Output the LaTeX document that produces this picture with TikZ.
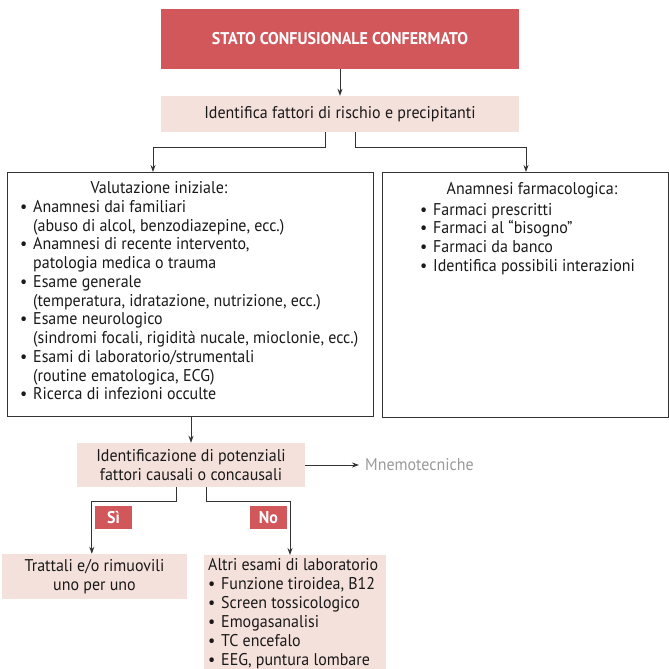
\documentclass[tikz,border=0pt]{standalone}
\usepackage{fontspec}
\setmainfont[FakeStretch=0.94]{PT Sans}
\usetikzlibrary{arrows.meta,calc}
\definecolor{boxred}{HTML}{D1575B}
\definecolor{boxpink}{HTML}{F5E1DC}
\definecolor{linegray}{HTML}{333333}
\definecolor{notegray}{HTML}{9A9A9A}
% bullet and hanging indent for list lines
\newcommand{\bl}{\makebox[13pt][l]{\textbullet}}
\newcommand{\ind}{\hspace*{13pt}}

\begin{document}
\begin{tikzpicture}[x=1pt,y=-1pt,
  every node/.style={font=\fontsize{17}{19}\selectfont, inner sep=0pt, text=black!90},
  redbox/.style={fill=boxred, text=white, font=\fontsize{17}{19}\selectfont\bfseries},
  pinkbox/.style={fill=boxpink},
  framebox/.style={draw=linegray, line width=0.9pt},
  conn/.style={draw=linegray, line width=0.9pt},
  arr/.style={conn, -{Stealth[length=7pt,width=5pt]}},
  listtext/.style={align=left, anchor=north west},
  headtext/.style={anchor=north},
]
\useasboundingbox (0,0) rectangle (669,669);

% --- top of the chart
\node[redbox, minimum width=358, minimum height=60] (top) at (340,39) {STATO CONFUSIONALE CONFERMATO};
\node[pinkbox, minimum width=358, minimum height=36] (risk) at (340,114) {Identifica fattori di rischio e precipitanti};

% --- two assessment boxes
\node[framebox, minimum width=366, minimum height=244, anchor=north west] (val) at (7,172) {};
\node[framebox, minimum width=286, minimum height=245, anchor=north west] (farm) at (382,172) {};

\node[headtext] (valhead) at (159,181) {Valutazione iniziale:};
\node[listtext, font=\fontsize{17}{18.75}\selectfont] (vallist) at (20,200) {%
\bl Anamnesi dai familiari\\
\ind(abuso di alcol, benzodiazepine, ecc.)\\
\bl Anamnesi di recente intervento,\\
\ind patologia medica o trauma\\
\bl Esame generale\\
\ind(temperatura, idratazione, nutrizione, ecc.)\\
\bl Esame neurologico\\
\ind(sindromi focali, rigidità nucale, mioclonie, ecc.)\\
\bl Esami di laboratorio/strumentali\\
\ind(routine ematologica, ECG)\\
\bl Ricerca di infezioni occulte};

\node[headtext] (farmhead) at (532,182) {Anamnesi farmacologica:};
\node[listtext, font=\fontsize{17}{18.75}\selectfont] (farmlist) at (420,203) {%
\bl Farmaci prescritti\\
\bl Farmaci al “bisogno”\\
\bl Farmaci da banco\\
\bl Identifica possibili interazioni};

% --- causal factors
\node[pinkbox, minimum width=228, minimum height=44, align=center] (cause) at (191,465)
  {Identificazione di potenziali\\fattori causali o concausali};
\node[anchor=west, text=notegray] (mnemo) at (365,465) {Mnemotecniche};

\node[redbox, minimum width=37, minimum height=23] (si) at (113.5,517.5) {Sì};
\node[redbox, minimum width=37, minimum height=23] (no) at (268.5,517.5) {No};

% --- outcomes
\node[pinkbox, minimum width=185, minimum height=45, align=center] (treat) at (94.5,576.5)
  {Trattali e/o rimuovili\\uno per uno};
\node[pinkbox, minimum width=182, minimum height=114, anchor=north west] (labs) at (204,555) {};
\node[listtext] (labstext) at (208,558) {%
Altri esami di laboratorio\\
\bl Funzione tiroidea, B12\\
\bl Screen tossicologico\\
\bl Emogasanalisi\\
\bl TC encefalo\\
\bl EEG, puntura lombare};

% --- connectors
\draw[arr] (top.south) -- (risk.north);
\draw[arr] ([xshift=-15pt]risk.south) -- ++(0,15) -| ([xshift=146pt]val.north west);
\draw[arr] ([xshift=15pt]risk.south) -- ++(0,15) -| ([xshift=144pt]farm.north west);
\draw[arr] ([xshift=184pt]val.south west) -- (cause.north);
\draw[arr] (cause.east) -- ([xshift=-6pt]mnemo.west);
\draw[arr] ([xshift=-15pt]cause.south) -- ++(0,14) -| ([xshift=90pt]treat.north west);
\draw[arr] ([xshift=15pt]cause.south) -- ++(0,14) -| ([xshift=86pt]labs.north west);
\end{tikzpicture}
\end{document}
